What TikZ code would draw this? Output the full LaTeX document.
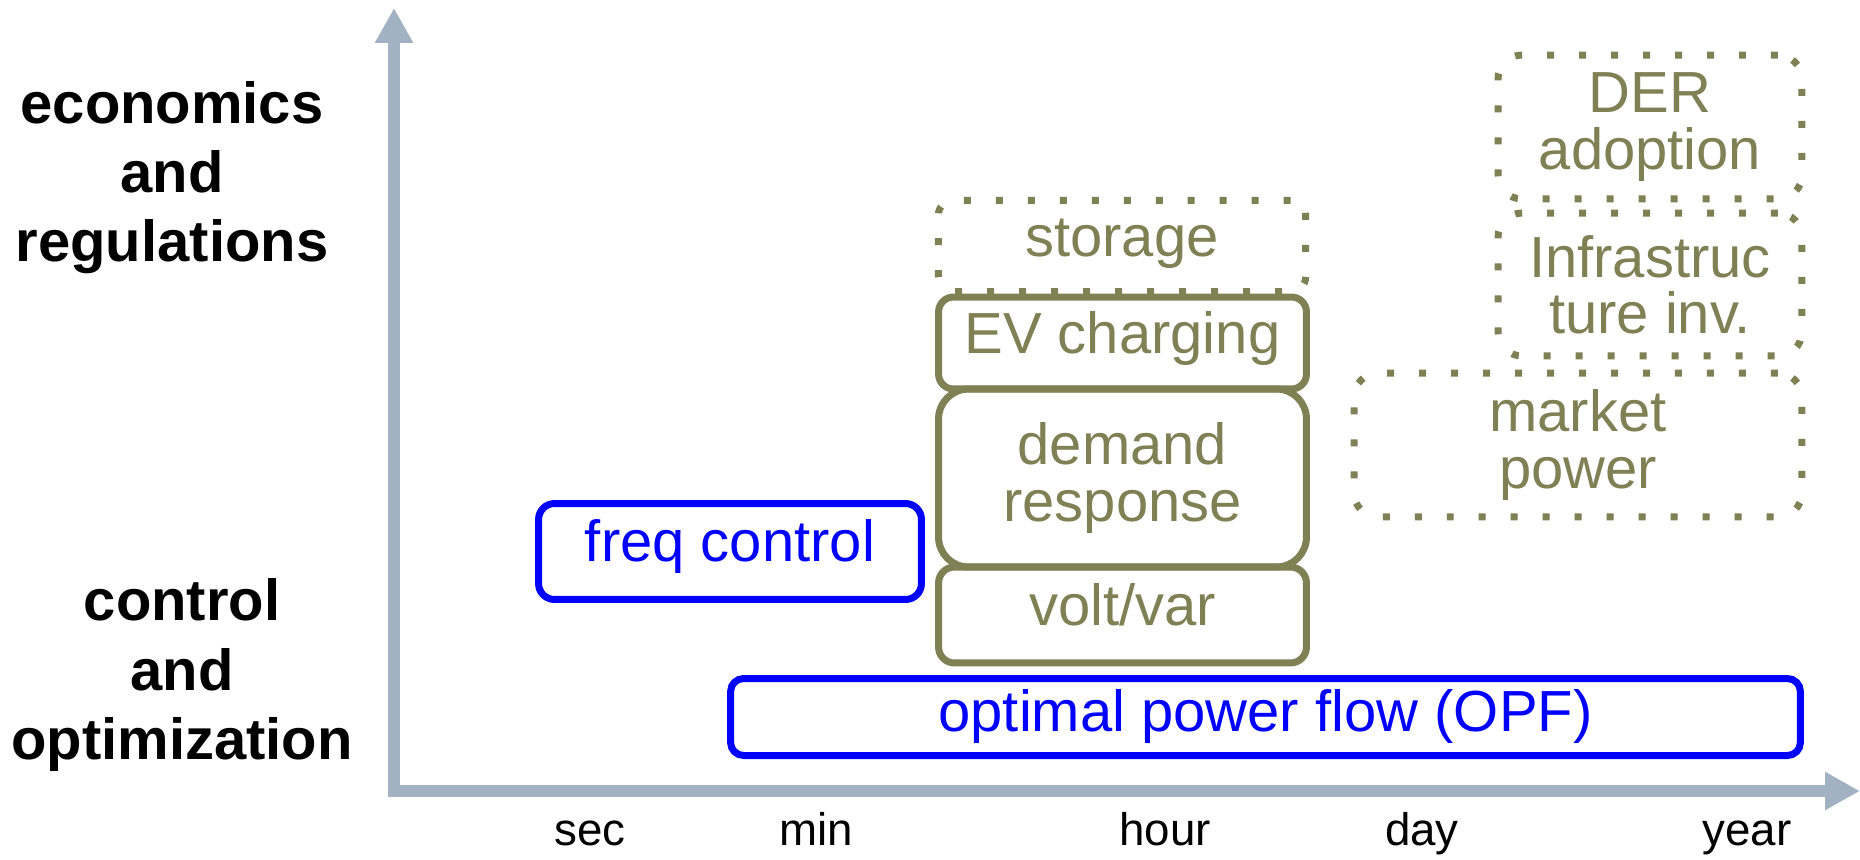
\documentclass[tikz,border=0pt]{standalone}
\usepackage{fontspec}
\setmainfont{Liberation Sans}
\usepackage{tikz}
\usetikzlibrary{arrows.meta}

\definecolor{olive}{RGB}{128,128,85}
\definecolor{axisgray}{RGB}{162,178,194}

\begin{document}
\begin{tikzpicture}[x=0.02cm,y=-0.02cm,
  axis/.style={draw=axisgray, line width=0.24cm, -{Triangle[length=0.7cm,width=0.72cm]}},
  ctrlbox/.style={draw=blue, text=blue, line width=0.14cm, inner sep=0pt, align=center, font=\fontsize{33pt}{32pt}\selectfont},
  econbox/.style={draw=olive, text=olive, line width=0.14cm, inner sep=0pt, align=center, font=\fontsize{33pt}{32pt}\selectfont},
  planbox/.style={econbox, dash pattern=on 0.14cm off 0.5cm},
  oneline/.style={text height=25pt, text depth=13.6pt},
  side/.style={align=center, font=\fontsize{33pt}{39.4pt}\selectfont\bfseries},
  tick/.style={anchor=base, font=\fontsize{26pt}{28pt}\selectfont}]
\useasboundingbox (0,0) rectangle (1860,859);

% axes
\draw[axis] (388,791) -- (1860,791);
\draw[axis] (394,797) -- (394,8);

% time scale
\node[tick] (sec) at (590,845) {sec};
\node[tick] (min) at (816,845) {min};
\node[tick] (hour) at (1165,845) {hour};
\node[tick] (day) at (1422,845) {day};
\node[tick] (year) at (1747,845) {year};

% layers
\node[side] (econ) at (172,177.5) {economics\\and\hspace*{0.32cm}\\regulations};
\node[side] (ctrl) at (182,675) {control\\and\\optimization};

% control problems
\node[ctrlbox, oneline, rounded corners=0.32cm, minimum width=7.66cm, minimum height=1.92cm] (freq) at (730,551.5) {freq control};
\node[ctrlbox, rounded corners=0.26cm, minimum width=21.4cm, minimum height=1.54cm] (opf) at (1265.5,717) {optimal power flow (OPF)};

% hour scale stack
\node[planbox, oneline, rounded corners=0.3cm, minimum width=7.35cm, minimum height=1.83cm] (storage) at (1122,246) {storage};
\node[econbox, oneline, rounded corners=0.3cm, minimum width=7.36cm, minimum height=1.84cm] (ev) at (1122.5,343) {EV charging};
\node[econbox, rounded corners=0.6cm, minimum width=7.36cm, minimum height=3.56cm] (dr) at (1122.5,478) {demand\\response};
\node[econbox, oneline, rounded corners=0.32cm, minimum width=7.36cm, minimum height=1.92cm] (volt) at (1122.5,615) {volt/var};

% long term
\node[planbox, rounded corners=0.48cm, minimum width=6.08cm, minimum height=2.88cm] (der) at (1650,127) {DER\\adoption};
\node[planbox, rounded corners=0.48cm, minimum width=6.08cm, minimum height=2.86cm] (infra) at (1650,284.5) {Infrastruc\\ture inv.};
\node[planbox, rounded corners=0.48cm, minimum width=8.96cm, minimum height=2.88cm] (market) at (1578,445) {market\\power};
\end{tikzpicture}
\end{document}
